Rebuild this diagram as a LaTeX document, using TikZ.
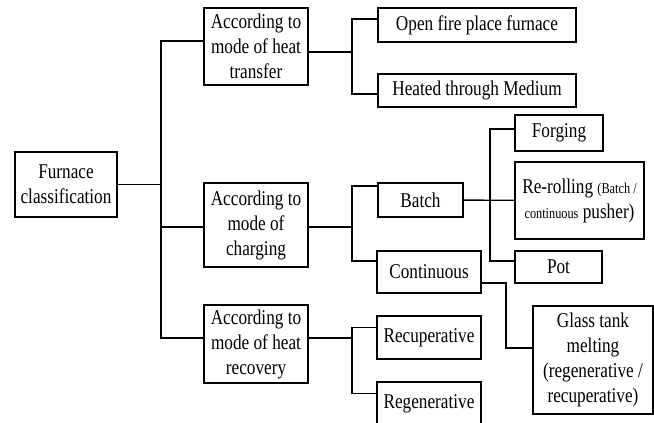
\documentclass[tikz,border=0pt]{standalone}
\usepackage{fontspec}
\setmainfont{Liberation Serif}[FakeStretch=0.82]

\begin{document}
\begin{tikzpicture}[x=1pt, y=1pt,
    cls/.style={draw, line width=1.4pt, inner sep=1pt, align=center,
      font=\fontsize{21}{25}\selectfont},
    link/.style={line width=1.4pt}]
    \useasboundingbox (0,0) rectangle (654,-423);

    \node[cls, minimum width=102pt, minimum height=65pt] (root) at (66,-184.5) {Furnace\\classification};

    \node[cls, minimum width=104pt, minimum height=77pt] (heat) at (256,-46.5) {According to\\mode of heat\\transfer};
    \node[cls, minimum width=104pt, minimum height=84pt] (charge) at (256,-225) {According to\\mode of\\charging};
    \node[cls, minimum width=104pt, minimum height=78pt] (recov) at (256,-344) {According to\\mode of heat\\recovery};

    \node[cls, minimum width=198pt, minimum height=34pt] (openfire) at (477,-25) {Open fire place furnace};
    \node[cls, minimum width=198pt, minimum height=33pt] (medium) at (477,-90.5) {Heated through Medium};

    \node[cls, minimum width=85pt, minimum height=34pt] (batch) at (420.5,-200) {Batch};
    \node[cls, minimum width=104pt, minimum height=42pt] (contin) at (429,-272) {Continuous};

    \node[cls, minimum width=88pt, minimum height=36pt] (forging) at (559,-133) {Forging};
    \node[cls, minimum width=129pt, minimum height=77pt] (reroll) at (579.5,-200.5)
      {Re-rolling {\fontsize{15}{18}\selectfont (Batch /}\\{\fontsize{15}{18}\selectfont continuous} pusher)};
    \node[cls, minimum width=87pt, minimum height=32pt] (pot) at (558.5,-267) {Pot};
    \node[cls, minimum width=120pt, minimum height=108pt] (glass) at (593,-360)
      {Glass tank\\melting\\(regenerative /\\recuperative)};

    \node[cls, minimum width=104pt, minimum height=43pt] (recup) at (429,-337.5) {Recuperative};
    \node[cls, minimum width=104pt, minimum height=43pt] (regen) at (429,-403.5) {Regenerative};

    \coordinate (trunk) at (161,-184.5);
    \coordinate (jheat) at (352,-52);
    \coordinate (jcharge) at (352,-227);
    \coordinate (jrecov) at (352,-338);
    \coordinate (jbatch) at (490,-200);
    \coordinate (jcont) at (506,-283);

    \draw[link] (root.east) -- (trunk);
    \draw[link] ([yshift=5.5pt]heat.west) -| (trunk) |- ([yshift=6pt]recov.west);
    \draw[link] (trunk) |- ([yshift=-2pt]charge.west);

    \draw[link] ([yshift=-5.5pt]heat.east) -- (jheat);
    \draw[link] ([yshift=6pt]openfire.west) -| (jheat) |- ([yshift=-3.5pt]medium.west);

    \draw[link] ([yshift=-2pt]charge.east) -- (jcharge);
    \draw[link] ([yshift=14pt]batch.west) -| (jcharge) |- ([yshift=11pt]contin.west);

    \draw[link] (batch) -- (reroll);
    \draw[link] ([yshift=4pt]forging.west) -| (jbatch) |- ([yshift=6pt]pot.west);

    \draw[link] ([yshift=-11pt]contin.east) -- (jcont) |- ([yshift=12pt]glass.west);

    \draw[link] ([yshift=6pt]recov.east) -- (jrecov);
    \draw[link] ([yshift=10pt]recup.west) -| (jrecov) |- ([yshift=10pt]regen.west);
\end{tikzpicture}
\end{document}
